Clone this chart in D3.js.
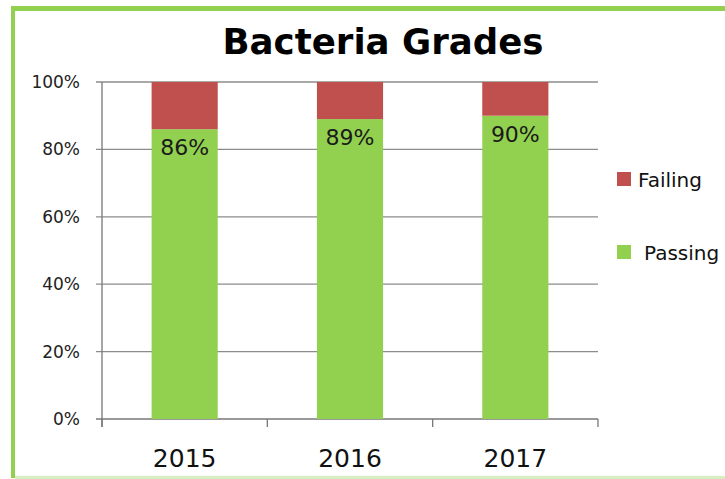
<!DOCTYPE html>
<html>
<head>
<meta charset="utf-8">
<script src="https://cdn.jsdelivr.net/npm/d3@7.9.0/dist/d3.min.js"></script>
<style>
  body { margin: 0; background: #fff; }
  svg { display: block; font-family: "DejaVu Sans", Verdana, sans-serif; }
</style>
</head>
<body>
<svg id="chart" width="725" height="479"></svg>
<script>
// data
const years = ['2015', '2016', '2017'];
const passing = [86, 89, 90];
const failing = [14, 11, 10];
const seriesNames = ['Failing', 'Passing'];
const yTicks = [0, 20, 40, 60, 80, 100];

const colors = { Passing: '#92d050', Failing: '#c0504d' };

const svg = d3.select('#chart');

// frame: strong top + left, faint bottom
svg.append('line')
  .attr('x1', 11).attr('x2', 725)
  .attr('y1', 8.5).attr('y2', 8.5)
  .attr('stroke', '#92d050').attr('stroke-width', 5);
svg.append('line')
  .attr('x1', 13).attr('x2', 13)
  .attr('y1', 6).attr('y2', 478)
  .attr('stroke', '#92d050').attr('stroke-width', 4);
svg.append('line')
  .attr('x1', 15).attr('x2', 725)
  .attr('y1', 477.5).attr('y2', 477.5)
  .attr('stroke', '#d6efbf').attr('stroke-width', 3);

const x = d3.scaleBand().domain(years).range([102, 598]);
const y = d3.scaleLinear().domain([0, 100]).range([419, 82]);

// gridlines + y ticks
svg.append('g')
  .selectAll('line')
  .data(yTicks)
  .join('line')
  .attr('x1', 96).attr('x2', 598)
  .attr('y1', d => y(d)).attr('y2', d => y(d))
  .attr('stroke', d => d === 0 ? '#777' : '#8c8c8c')
  .attr('stroke-width', 1.3);

svg.append('g')
  .selectAll('text')
  .data(yTicks)
  .join('text')
  .attr('x', 80)
  .attr('y', d => y(d) + 6)
  .attr('text-anchor', 'end')
  .attr('font-size', 17)
  .attr('fill', '#222')
  .text(d => d + '%');

// y axis line
svg.append('line')
  .attr('x1', 102).attr('x2', 102)
  .attr('y1', y(100)).attr('y2', y(0) + 8)
  .attr('stroke', '#777').attr('stroke-width', 1.3);

// x ticks at band edges
const edges = years.map(d => x(d)).concat([x.range()[1]]);
svg.append('g')
  .selectAll('line')
  .data(edges)
  .join('line')
  .attr('x1', d => d).attr('x2', d => d)
  .attr('y1', y(0)).attr('y2', y(0) + 8)
  .attr('stroke', '#777').attr('stroke-width', 1.3);

svg.append('g')
  .selectAll('text')
  .data(years)
  .join('text')
  .attr('x', d => x(d) + x.bandwidth() / 2)
  .attr('y', 467)
  .attr('text-anchor', 'middle')
  .attr('font-size', 25)
  .attr('fill', '#111')
  .text(d => d);

// bars
const barW = x.bandwidth() * 0.4;
const bars = svg.append('g');
years.forEach((yr, i) => {
  const bx = x(yr) + (x.bandwidth() - barW) / 2;
  bars.append('rect')
    .attr('x', bx).attr('width', barW)
    .attr('y', y(passing[i])).attr('height', y(0) - y(passing[i]))
    .attr('fill', colors.Passing);
  bars.append('rect')
    .attr('x', bx).attr('width', barW)
    .attr('y', y(passing[i] + failing[i])).attr('height', y(passing[i]) - y(passing[i] + failing[i]))
    .attr('fill', colors.Failing);
  bars.append('text')
    .attr('x', x(yr) + x.bandwidth() / 2)
    .attr('y', y(passing[i]) + 26)
    .attr('text-anchor', 'middle')
    .attr('font-size', 22)
    .attr('fill', '#1a1a1a')
    .text(passing[i] + '%');
});

// title
svg.append('text')
  .attr('x', 383)
  .attr('y', 54)
  .attr('text-anchor', 'middle')
  .attr('font-size', 36)
  .attr('font-weight', 'bold')
  .attr('textLength', 321)
  .attr('lengthAdjust', 'spacingAndGlyphs')
  .attr('fill', '#000')
  .text('Bacteria Grades');

// legend
const legend = svg.append('g');
seriesNames.forEach((name, i) => {
  const ly = 172 + i * 73;
  legend.append('rect')
    .attr('x', 617).attr('y', ly)
    .attr('width', 14).attr('height', 14)
    .attr('fill', colors[name]);
  legend.append('text')
    .attr('x', name === 'Passing' ? 644 : 638)
    .attr('y', ly + 15)
    .attr('font-size', 20)
    .attr('fill', '#111')
    .text(name);
});
</script>
</body>
</html>
